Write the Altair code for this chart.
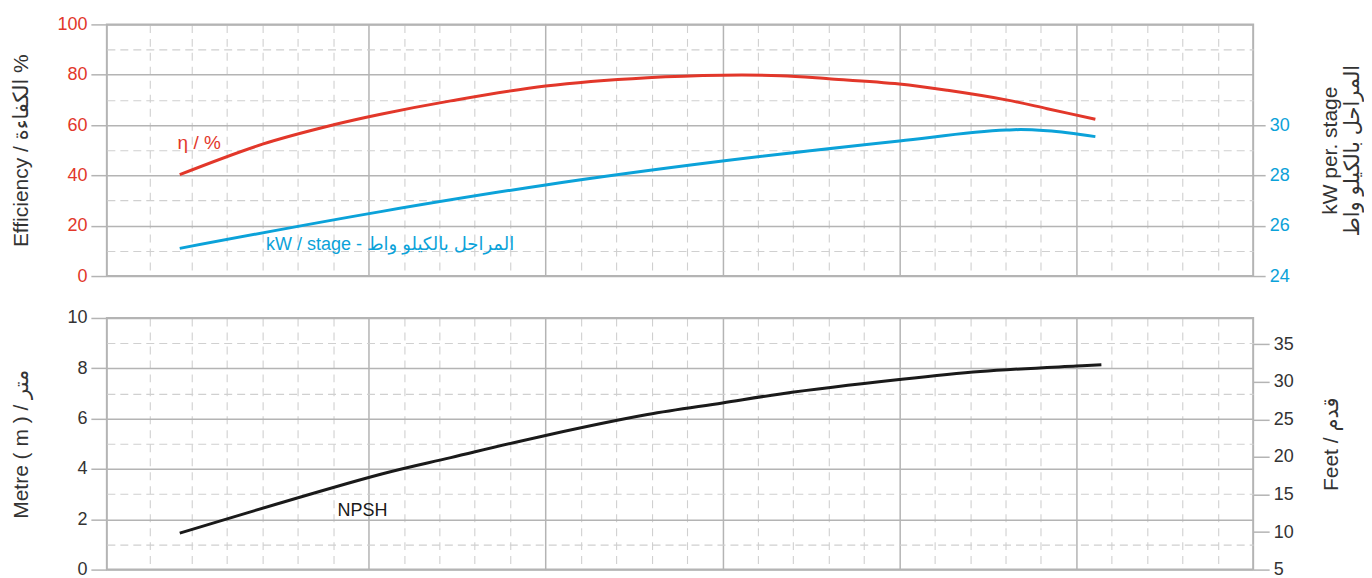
import altair as alt
import pandas as pd

# ---------------- data ----------------
x_eff = [-5.34, -3.0, -0.99, 0.34, 2.32, 5.0, 7.88, 10.0, 11.64, 13.0, 15.0, 16.36, 18.02, 19.18, 20.54]
eff = [40.3, 52.4, 60.1, 64.3, 69.6, 75.5, 78.8, 79.8, 79.6, 78.4, 76.3, 73.8, 70.0, 66.5, 62.3]

x_kw = [-5.34, 0.34, 5.0, 10.0, 15.0, 18.02, 18.42, 19.18, 20.54]
kw = [25.10, 26.56, 27.62, 28.57, 29.37, 29.80, 29.82, 29.77, 29.54]

x_npsh = [-5.34, 0.34, 2.32, 5.0, 7.88, 10.0, 11.64, 15.0, 17.29, 20.0, 20.71]
npsh = [1.45, 3.79, 4.45, 5.33, 6.16, 6.62, 6.98, 7.55, 7.87, 8.09, 8.14]

eff_ticks = [0, 10, 20, 30, 40, 50, 60, 70, 80, 90, 100]
kw_ticks = [24, 26, 28, 30]
m_ticks = [0, 1, 2, 3, 4, 5, 6, 7, 8, 9, 10]
ft_ticks = [5, 10, 15, 20, 25, 30, 35]
x_major = [0, 5, 10, 15, 20]
x_minor = [-6.2, -5, -4, -3, -2, -1, 1, 2, 3, 4, 6, 7, 8, 9, 11, 12, 13, 14, 16, 17, 18, 19, 21, 22, 23, 24]

labels_top = [("η / %", -5.4, 53.0)]
labels_kw = [("kW / stage - المراحل بالكيلو واط", -2.9, 25.23)]
labels_bottom = [("NPSH", -0.88, 2.34)]

# ---------------- styling ----------------
FONT = "Liberation Sans, Arimo, DejaVu Sans, sans-serif"
RED = "#e2372a"
BLUE = "#0ba2d9"
DARK = "#333333"
GRID = "#b4b4b4"
MINOR = "#d0d0d0"
W, H = 1148, 252

xscale = alt.Scale(domain=[-7.4, 25], nice=False, zero=False)
x_test = "indexof([0,5,10,15,20], datum.value) >= 0"


def x_enc():
    return alt.X("x:Q", scale=xscale,
                 axis=alt.Axis(values=sorted(x_major + x_minor), labels=False, ticks=False,
                               domain=False, title=None, grid=True,
                               gridColor={"condition": {"test": x_test, "value": GRID}, "value": MINOR},
                               gridDash={"condition": {"test": x_test, "value": []}, "value": [8, 6]},
                               gridWidth={"condition": {"test": x_test, "value": 1.5}, "value": 1.1}))


def left_axis(values, major_mod, title, label_color, title_pad):
    test = f"datum.value % {major_mod} === 0"
    return alt.Axis(values=values, orient="left", title=title, grid=True,
                    labelExpr=f"datum.value % {major_mod} === 0 ? datum.label : ''",
                    labelColor=label_color, labelPadding=4, tickSize=16,
                    tickOpacity={"condition": {"test": test, "value": 1}, "value": 0},
                    gridColor={"condition": {"test": test, "value": GRID}, "value": MINOR},
                    gridDash={"condition": {"test": test, "value": []}, "value": [8, 5]},
                    gridWidth={"condition": {"test": test, "value": 1.5}, "value": 1.1},
                    titlePadding=title_pad)


eff_scale = alt.Scale(domain=[0, 100], nice=False, zero=False)
kw_scale = alt.Scale(domain=[24, 34], nice=False, zero=False)
m_scale = alt.Scale(domain=[0, 10], nice=False, zero=False)
ft_scale = alt.Scale(domain=[5, 38.5], nice=False, zero=False)


def eff_enc():
    return alt.Y("eff:Q", scale=eff_scale,
                 axis=left_axis(eff_ticks, 20, "Efficiency / الكفاءة %", RED, 25))


def kw_enc():
    return alt.Y("kw:Q", scale=kw_scale,
                 axis=alt.Axis(values=kw_ticks, orient="right", grid=False, labelColor=BLUE,
                               tickSize=12, labelPadding=4,
                               title=["kW per. stage", "المراحل بالكيلو واط"],
                               titleAngle=270, titleBaseline="top", titlePadding=8,
                               titleLineHeight=22))


def m_enc():
    return alt.Y("m:Q", scale=m_scale,
                 axis=left_axis(m_ticks, 2, "Metre ( m ) / متر", DARK, 35))


# ---------------- top panel ----------------
eff_df = pd.DataFrame({"x": x_eff, "eff": eff})
kw_df = pd.DataFrame({"x": x_kw, "kw": kw})
eta_df = pd.DataFrame(labels_top, columns=["t", "x", "eff"])
kwt_df = pd.DataFrame(labels_kw, columns=["t", "x", "kw"])

red = alt.Chart(eff_df).mark_line(color=RED, strokeWidth=3, interpolate="catmull-rom").encode(
    x=x_enc(), y=eff_enc())
eta_text = alt.Chart(eta_df).mark_text(color=RED, font=FONT, fontSize=19, align="left",
                                        baseline="middle").encode(
    x=x_enc(), y=eff_enc(), text="t:N")
blue = alt.Chart(kw_df).mark_line(color=BLUE, strokeWidth=3, interpolate="monotone").encode(
    x=x_enc(), y=kw_enc())
kw_text = alt.Chart(kwt_df).mark_text(color=BLUE, font=FONT, fontSize=18, align="left",
                                       baseline="middle").encode(
    x=x_enc(), y=kw_enc(), text="t:N")

top = alt.layer(alt.layer(red, eta_text), alt.layer(blue, kw_text)).resolve_scale(
    y="independent").properties(width=W, height=H)

# ---------------- bottom panel ----------------
np_df = pd.DataFrame({"x": x_npsh, "m": npsh})
npt_df = pd.DataFrame(labels_bottom, columns=["t", "x", "m"])

black = alt.Chart(np_df).mark_line(color="#1a1a1a", strokeWidth=3, interpolate="catmull-rom").encode(
    x=x_enc(), y=m_enc())
np_text = alt.Chart(npt_df).mark_text(color="#1a1a1a", font=FONT, fontSize=18, align="left",
                                       baseline="middle").encode(
    x=x_enc(), y=m_enc(), text="t:N")
feet_axis = alt.Chart(np_df).transform_calculate(ft="5 + datum.m * 3.35").mark_line(
    opacity=0).encode(
    x=x_enc(),
    y=alt.Y("ft:Q", scale=ft_scale,
            axis=alt.Axis(values=ft_ticks, orient="right", grid=False, labelColor=DARK,
                          tickSize=16, labelPadding=4, title="Feet / قدم",
                          titleAngle=270, titleBaseline="top", titlePadding=27)),
)

bottom = alt.layer(alt.layer(black, np_text), feet_axis).resolve_scale(
    y="independent").properties(width=W, height=H)

chart = alt.vconcat(top, bottom, spacing=22).properties(
    padding={"left": 1, "top": 6, "right": 0, "bottom": 0}
).configure_view(
    stroke=GRID, strokeWidth=2
).configure_axis(
    labelFont=FONT, titleFont=FONT, labelFontSize=18, titleFontSize=21,
    titleFontWeight="normal", titleColor=DARK, tickColor=GRID, tickWidth=1.5,
    domain=False,
)

chart.save("out.html", embed_options={"renderer": "svg", "actions": False})
